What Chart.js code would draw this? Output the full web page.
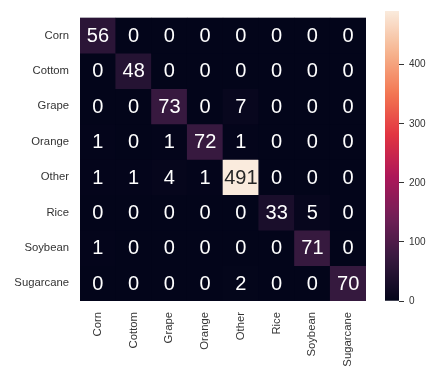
<!DOCTYPE html>
<html>
<head>
<meta charset="utf-8">
<script src="https://cdn.jsdelivr.net/npm/chart.js@4"></script>
<style>
  html, body { margin: 0; padding: 0; background: #ffffff; }
  #wrap { position: relative; width: 428px; height: 367px; }
  #main { position: absolute; left: 0; top: 0; }
  #cbar { position: absolute; left: 385px; top: 0; }
</style>
</head>
<body>
<div id="wrap">
  <canvas id="main" width="428" height="367"></canvas>
  <canvas id="cbar" width="43" height="367"></canvas>
</div>
<script>
// ---- data ----
const rowLabels = ['Corn', 'Cottom', 'Grape', 'Orange', 'Other', 'Rice', 'Soybean', 'Sugarcane'];
const colLabels = ['Corn', 'Cottom', 'Grape', 'Orange', 'Other', 'Rice', 'Soybean', 'Sugarcane'];
const rowCorn      = [56, 0, 0, 0, 0, 0, 0, 0];
const rowCottom    = [0, 48, 0, 0, 0, 0, 0, 0];
const rowGrape     = [0, 0, 73, 0, 7, 0, 0, 0];
const rowOrange    = [1, 0, 1, 72, 1, 0, 0, 0];
const rowOther     = [1, 1, 4, 1, 491, 0, 0, 0];
const rowRice      = [0, 0, 0, 0, 0, 33, 5, 0];
const rowSoybean   = [1, 0, 0, 0, 0, 0, 71, 0];
const rowSugarcane = [0, 0, 0, 0, 2, 0, 0, 70];
const matrix = [rowCorn, rowCottom, rowGrape, rowOrange, rowOther, rowRice, rowSoybean, rowSugarcane];
const colorMin = 0;
const colorMax = 491;
const colorbarTicks = [0, 100, 200, 300, 400];

// ---- colormap (seaborn "rocket") ----
const rocketStops = [
  [0.000, '#03051a'],
  [0.143, '#35193e'],
  [0.286, '#701f57'],
  [0.429, '#ad1759'],
  [0.571, '#e13342'],
  [0.714, '#f37651'],
  [0.857, '#f6b48f'],
  [1.000, '#faebdd']
];
function hexToRgb(h) {
  return [parseInt(h.slice(1, 3), 16), parseInt(h.slice(3, 5), 16), parseInt(h.slice(5, 7), 16)];
}
function rocketRgb(t) {
  t = Math.max(0, Math.min(1, t));
  for (let i = 1; i < rocketStops.length; i++) {
    const [p1, c1] = rocketStops[i];
    const [p0, c0] = rocketStops[i - 1];
    if (t <= p1) {
      const f = (t - p0) / (p1 - p0);
      const a = hexToRgb(c0), b = hexToRgb(c1);
      return a.map((v, k) => Math.round(v + (b[k] - v) * f));
    }
  }
  return hexToRgb(rocketStops[rocketStops.length - 1][1]);
}
function colorFor(v) {
  const c = rocketRgb((v - colorMin) / (colorMax - colorMin));
  return `rgb(${c[0]},${c[1]},${c[2]})`;
}
function textColorFor(v) {
  const c = rocketRgb((v - colorMin) / (colorMax - colorMin)).map(x => {
    x /= 255;
    return x <= 0.03928 ? x / 12.92 : Math.pow((x + 0.055) / 1.055, 2.4);
  });
  const lum = 0.2126 * c[0] + 0.7152 * c[1] + 0.0722 * c[2];
  return lum > 0.408 ? '#262626' : '#ffffff';
}

const labelFont = { family: "'Liberation Sans', Arial, sans-serif", size: 11.3 };
const labelColor = '#333333';

// ---- plugins ----
const cellBackground = {
  id: 'cellBackground',
  beforeDatasetsDraw(chart) {
    const { ctx, chartArea: a } = chart;
    ctx.save();
    ctx.fillStyle = colorFor(colorMin);
    ctx.fillRect(a.left, a.top, a.right - a.left, a.bottom - a.top);
    ctx.restore();
  }
};
const annotations = {
  id: 'annotations',
  afterDatasetsDraw(chart) {
    const { ctx } = chart;
    ctx.save();
    ctx.font = "20px 'Liberation Sans', Arial, sans-serif";
    ctx.textAlign = 'center';
    ctx.textBaseline = 'middle';
    chart.data.datasets.forEach((ds, di) => {
      const meta = chart.getDatasetMeta(di);
      meta.data.forEach((bar, ci) => {
        const p = bar.getProps(['x', 'y', 'base'], true);
        const v = matrix[di][ci];
        ctx.fillStyle = textColorFor(v);
        ctx.fillText(String(v), p.x, (p.y + p.base) / 2 + 1);
      });
    });
    ctx.restore();
  }
};

// ---- heatmap ----
const datasets = rowLabels.map((r, ri) => ({
  label: r,
  data: colLabels.map(() => [ri, ri + 1]),
  backgroundColor: matrix[ri].map(v => colorFor(v)),
  borderWidth: 0,
  borderSkipped: false,
  grouped: false,
  barPercentage: 1,
  categoryPercentage: 1
}));

new Chart(document.getElementById('main'), {
  type: 'bar',
  data: { labels: colLabels, datasets },
  options: {
    responsive: false,
    devicePixelRatio: 1,
    animation: false,
    layout: { padding: { top: 10, right: 62, left: 0, bottom: 0 } },
    plugins: { legend: { display: false }, tooltip: { enabled: false } },
    scales: {
      x: {
        type: 'category',
        grid: { display: false, drawTicks: false },
        border: { display: false },
        ticks: { maxRotation: 90, minRotation: 90, autoSkip: false, padding: 11, font: labelFont, color: labelColor },
        afterFit: s => { s.height = 66; }
      },
      y: {
        type: 'linear',
        min: 0,
        max: rowLabels.length,
        reverse: true,
        grid: { display: false, drawTicks: false },
        border: { display: false },
        afterBuildTicks: s => { s.ticks = rowLabels.map((_, i) => ({ value: i + 0.5 })); },
        ticks: {
          autoSkip: false,
          padding: 11,
          font: labelFont,
          color: labelColor,
          callback: v => rowLabels[Math.floor(v)]
        },
        afterFit: s => { s.width = 80; }
      }
    }
  },
  plugins: [cellBackground, annotations]
});

// ---- colorbar ----
new Chart(document.getElementById('cbar'), {
  type: 'bar',
  data: {
    labels: [''],
    datasets: [{
      data: [[colorMin, colorMax]],
      borderWidth: 0,
      borderSkipped: false,
      barPercentage: 1,
      categoryPercentage: 1,
      backgroundColor: ctx => {
        const a = ctx.chart.chartArea;
        if (!a) return colorFor(colorMin);
        const g = ctx.chart.ctx.createLinearGradient(0, a.bottom, 0, a.top);
        for (let i = 0; i <= 40; i++) {
          const t = i / 40;
          g.addColorStop(t, colorFor(colorMin + t * (colorMax - colorMin)));
        }
        return g;
      }
    }]
  },
  options: {
    responsive: false,
    devicePixelRatio: 1,
    animation: false,
    layout: { padding: { top: 10, bottom: 66, left: 0, right: 0 } },
    plugins: { legend: { display: false }, tooltip: { enabled: false } },
    scales: {
      x: { display: false },
      y: {
        position: 'right',
        min: colorMin,
        max: colorMax,
        afterBuildTicks: s => { s.ticks = colorbarTicks.map(v => ({ value: v })); },
        grid: { drawOnChartArea: false, drawTicks: true, tickLength: 5, color: '#333333', tickWidth: 1 },
        border: { display: false },
        ticks: { padding: 5, font: { family: "'Liberation Sans', Arial, sans-serif", size: 10 }, color: labelColor },
        afterFit: s => { s.width = 29; }
      }
    }
  }
});
</script>
</body>
</html>
